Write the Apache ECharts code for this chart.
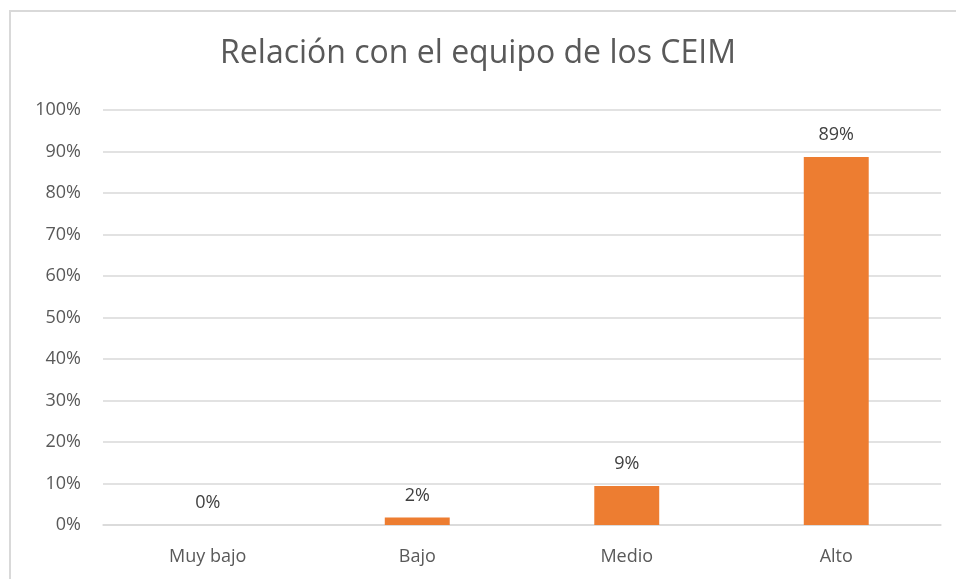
<!DOCTYPE html>
<html>
<head>
<meta charset="utf-8">
<script src="https://cdn.jsdelivr.net/npm/echarts@6/dist/echarts.min.js"></script>
<style>
  html, body { margin: 0; padding: 0; background: #fff; }
  #marco { position: absolute; left: 9px; top: 10px; width: 960px; height: 600px;
           border-left: 2px solid #d9d9d9; border-top: 2px solid #d9d9d9; }
  #chart { position: absolute; left: 0; top: 0; width: 956px; height: 579px; }
</style>
</head>
<body>
<div id="marco"></div>
<div id="chart"></div>
<script>
// Datos del gráfico
const categorias = ['Muy bajo', 'Bajo', 'Medio', 'Alto'];
const valores = [0, 1.8, 9.4, 88.7];
const etiquetas = ['0%', '2%', '9%', '89%'];
const titulo = 'Relación con el equipo de los CEIM';

const fuente = '"Open Sans", "Noto Sans", sans-serif';

const chart = echarts.init(document.getElementById('chart'), null, { renderer: 'canvas' });

chart.setOption({
  animation: false,
  title: {
    text: titulo,
    left: 'center',
    top: 33,
    textStyle: { fontFamily: fuente, fontSize: 32, fontWeight: 'normal', color: '#595959' }
  },
  grid: { left: 103, right: 15, top: 110, bottom: 54 },
  xAxis: {
    type: 'category',
    data: categorias,
    axisLine: { lineStyle: { color: '#d9d9d9', width: 1.5 } },
    axisTick: { show: false },
    axisLabel: { fontFamily: fuente, fontSize: 18, color: '#595959', margin: 23 }
  },
  yAxis: {
    type: 'value',
    min: 0,
    max: 100,
    interval: 10,
    axisLine: { show: false },
    axisTick: { show: false },
    splitLine: { lineStyle: { color: '#d9d9d9', width: 1.5 } },
    axisLabel: { fontFamily: fuente, fontSize: 18, color: '#595959', margin: 22,
      formatter: function(v) { return v + '%'; } }
  },
  series: [
    {
      type: 'bar',
      data: valores,
      barWidth: '31%',
      itemStyle: { color: '#ed7d31' },
      label: {
        show: true,
        position: 'top',
        distance: 13,
        fontFamily: fuente,
        fontSize: 18,
        color: '#404040',
        formatter: function(p) { return etiquetas[p.dataIndex]; }
      }
    }
  ]
});
</script>
</body>
</html>
